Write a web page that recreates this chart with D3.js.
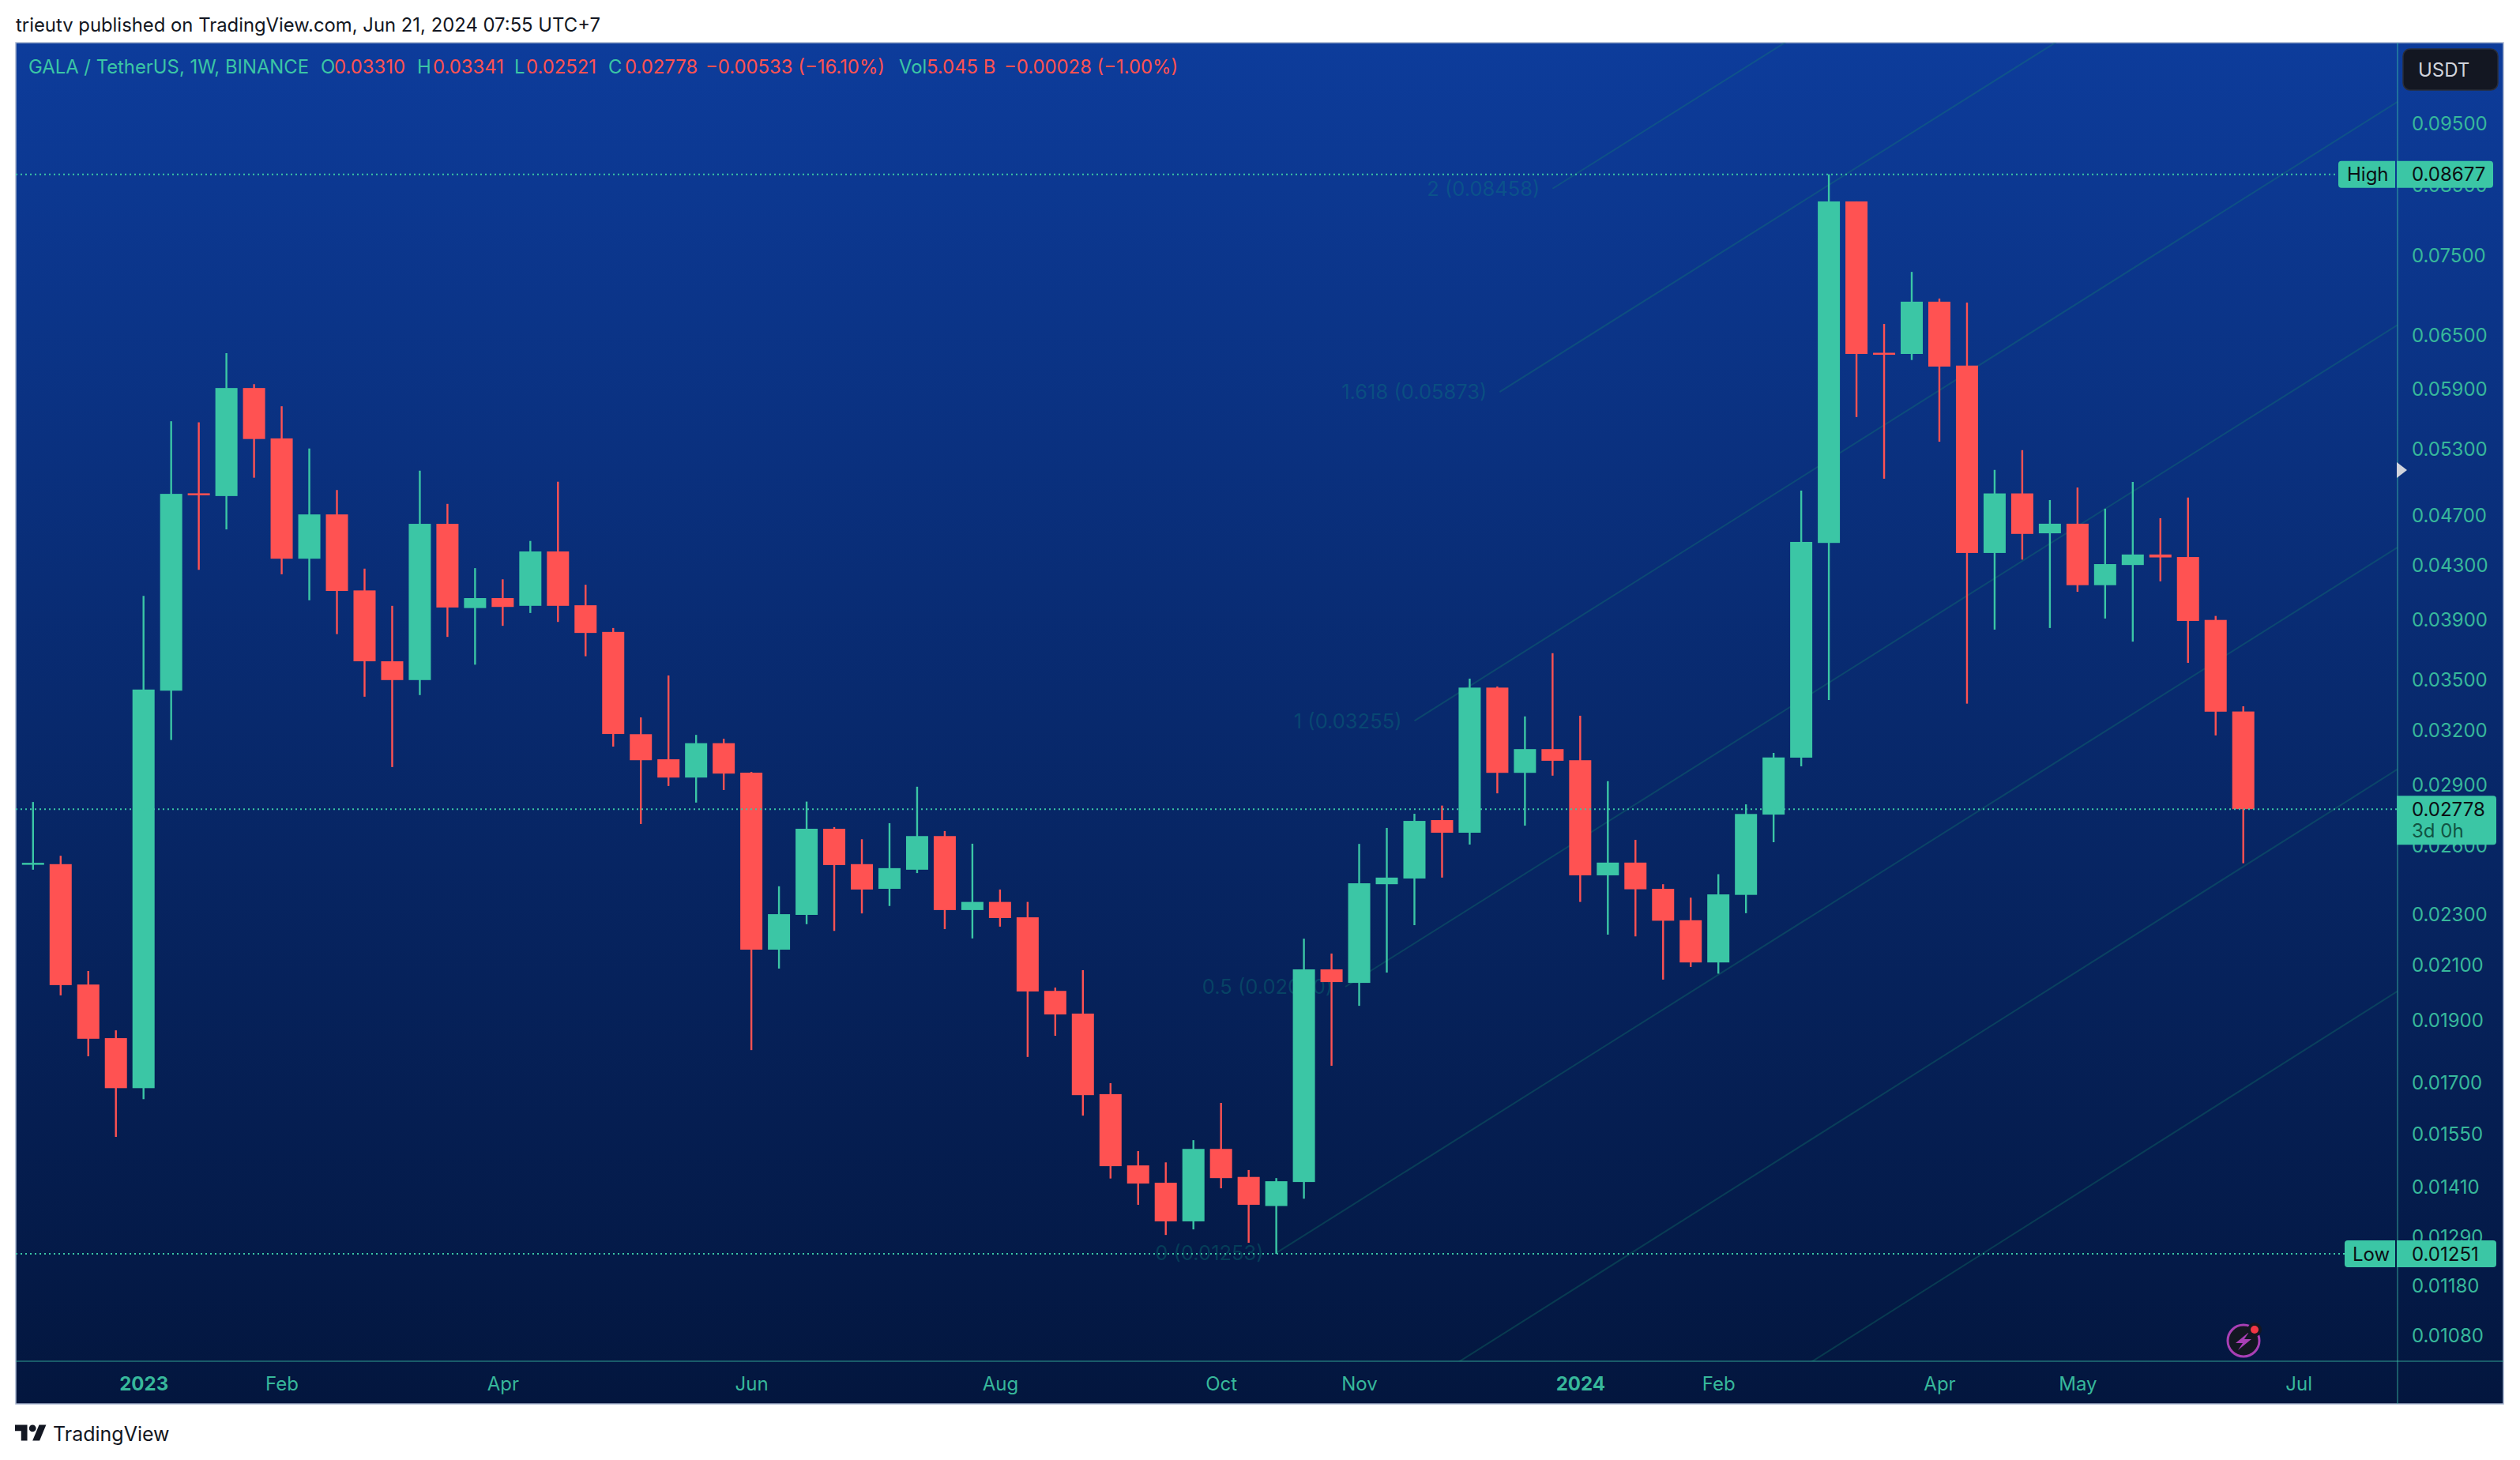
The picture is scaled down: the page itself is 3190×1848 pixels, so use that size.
<!DOCTYPE html>
<html>
<head>
<meta charset="utf-8">
<title>GALA / TetherUS 1W</title>
<script src="https://cdn.jsdelivr.net/npm/d3@7"></script>
<style>
    html, body { margin: 0; background: #fff; }
    svg { display: block; }
    text { font-family: Inter, "Noto Sans", sans-serif; }
</style>
</head>
<body>
<svg id="chart"></svg>
<script>
const svgWidth = 3190
const svgHeight = 1848
const panel = { left: 20, right: 3169, top: 54, bottom: 1777, plotBottom: 1723, axisX: 3035 }
const colours = { up: '#3bc6a5', down: '#ff5252', tick: '#37b89b', fib: 'rgba(20, 140, 110, 0.3)', fibText: 'rgba(10, 140, 125, 0.33)' }

// weekly candles, Mon 5 Dec 2022 .. Mon 17 Jun 2024
const weeks = d3.utcMonday.range(new Date(Date.UTC(2022, 11, 5)), new Date(Date.UTC(2024, 5, 18)))

const opens = [
    0.02520, 0.02517, 0.02028, 0.01842, 0.01684, 0.03436, 0.04896, 0.04872, 0.05914, 0.05403,
    0.04354, 0.04714, 0.04113, 0.03622, 0.03502, 0.04635, 0.03985, 0.04057, 0.04001, 0.04411,
    0.04005, 0.03818, 0.03178, 0.03038, 0.02940, 0.03127, 0.02966, 0.02159, 0.02298, 0.02682,
    0.02517, 0.02408, 0.02492, 0.02647, 0.02318, 0.02352, 0.02288, 0.02005, 0.01925, 0.01666,
    0.01466, 0.01421, 0.01326, 0.01510, 0.01436, 0.01363, 0.01423, 0.02084, 0.02034, 0.02428,
    0.02453, 0.02724, 0.02663, 0.03455, 0.02965, 0.03094, 0.03033, 0.02467, 0.02524, 0.02408,
    0.02276, 0.02110, 0.02382, 0.02751, 0.03047, 0.04479, 0.08266, 0.06300, 0.06287, 0.06905,
    0.06157, 0.04399, 0.04895, 0.04557, 0.04636, 0.04152, 0.04305, 0.04387, 0.04367, 0.03901,
    0.03310
]
const highs = [
    0.02814, 0.02555, 0.02078, 0.01868, 0.04073, 0.05572, 0.05561, 0.06296, 0.05955, 0.05724,
    0.05306, 0.04925, 0.04277, 0.04001, 0.05099, 0.04804, 0.04281, 0.04196, 0.04495, 0.04999,
    0.04155, 0.03845, 0.03275, 0.03531, 0.03174, 0.03152, 0.02970, 0.02419, 0.02816, 0.02690,
    0.02632, 0.02709, 0.02892, 0.02671, 0.02611, 0.02405, 0.02352, 0.02017, 0.02081, 0.01699,
    0.01504, 0.01474, 0.01534, 0.01640, 0.01454, 0.01433, 0.02202, 0.02144, 0.02610, 0.02686,
    0.02755, 0.02796, 0.03511, 0.03462, 0.03281, 0.03675, 0.03285, 0.02921, 0.02629, 0.02428,
    0.02370, 0.02472, 0.02802, 0.03073, 0.04920, 0.08677, 0.08266, 0.06635, 0.07284, 0.06944,
    0.06894, 0.05106, 0.05290, 0.04837, 0.04947, 0.04763, 0.04997, 0.04682, 0.04859, 0.03929,
    0.03341
]
const lows = [
    0.02492, 0.01989, 0.01783, 0.01543, 0.01651, 0.03145, 0.04268, 0.04589, 0.05035, 0.04234,
    0.04041, 0.03803, 0.03399, 0.02996, 0.03409, 0.03784, 0.03600, 0.03860, 0.03950, 0.03887,
    0.03655, 0.03108, 0.02705, 0.02896, 0.02811, 0.02875, 0.01803, 0.02087, 0.02260, 0.02233,
    0.02304, 0.02335, 0.02477, 0.02240, 0.02203, 0.02250, 0.01781, 0.01850, 0.01603, 0.01432,
    0.01366, 0.01294, 0.01307, 0.01407, 0.01276, 0.01251, 0.01381, 0.01753, 0.01952, 0.02072,
    0.02256, 0.02457, 0.02607, 0.02858, 0.02697, 0.02950, 0.02352, 0.02218, 0.02211, 0.02046,
    0.02093, 0.02068, 0.02305, 0.02618, 0.03000, 0.03379, 0.05614, 0.05026, 0.06219, 0.05371,
    0.03357, 0.03834, 0.04347, 0.03845, 0.04103, 0.03911, 0.03752, 0.04181, 0.03612, 0.03171,
    0.02521
]
const closes = [
    0.02523, 0.02026, 0.01840, 0.01684, 0.03443, 0.04891, 0.04886, 0.05914, 0.05397, 0.04354,
    0.04714, 0.04109, 0.03622, 0.03502, 0.04635, 0.03989, 0.04057, 0.03993, 0.04411, 0.04001,
    0.03811, 0.03179, 0.03033, 0.02940, 0.03127, 0.02961, 0.02159, 0.02301, 0.02682, 0.02513,
    0.02405, 0.02499, 0.02647, 0.02318, 0.02352, 0.02285, 0.02003, 0.01922, 0.01663, 0.01464,
    0.01419, 0.01326, 0.01510, 0.01433, 0.01366, 0.01425, 0.02084, 0.02037, 0.02432, 0.02457,
    0.02720, 0.02663, 0.03455, 0.02965, 0.03094, 0.03030, 0.02467, 0.02524, 0.02406, 0.02274,
    0.02110, 0.02384, 0.02754, 0.03048, 0.04487, 0.08266, 0.06287, 0.06298, 0.06905, 0.06146,
    0.04399, 0.04895, 0.04552, 0.04636, 0.04152, 0.04312, 0.04387, 0.04364, 0.03894, 0.03309,
    0.02778
]

const priceTicks = [
    0.095, 0.085, 0.075, 0.065, 0.059, 0.053, 0.047, 0.043, 0.039, 0.035, 0.032,
    0.029, 0.026, 0.023, 0.021, 0.019, 0.017, 0.0155, 0.0141, 0.0129, 0.0118, 0.0108
]
const timeTickDates = [
    '2023-01-02', '2023-02-06', '2023-04-03', '2023-06-05', '2023-08-07', '2023-10-02',
    '2023-11-06', '2024-01-01', '2024-02-05', '2024-04-01', '2024-05-06', '2024-07-01'
].map(d => new Date(d))
const timeTickLabels = ['2023', 'Feb', 'Apr', 'Jun', 'Aug', 'Oct', 'Nov', '2024', 'Feb', 'Apr', 'May', 'Jul']

// trend based fib: one line per level, start and end in (date, price)
const fibLabels = ['', '', '0 (0.01253)', '0.5 (0.02020)', '1 (0.03255)', '1.618 (0.05873)', '2 (0.08458)']
const fibStartDates = ['2023-09-11', '2023-09-28T12:00', '2023-10-16', '2023-11-02T12:00', '2023-11-20', '2023-12-11T14:00', '2023-12-25']
    .map(d => new Date(d + (d.length > 10 ? 'Z' : '')))
const fibStartPrices = [0.00480, 0.00775, 0.01253, 0.02020, 0.03255, 0.05873, 0.08458]
const fibEndDate = new Date('2024-07-26')
const fibEndPrices = [0.02003, 0.02983, 0.04442, 0.06620, 0.09880, 0.16160, 0.21920]

const candles = weeks.map((date, i) => ({
    date,
    open: opens[i],
    high: highs[i],
    low: lows[i],
    close: closes[i]
}))

const x = d3.scaleUtc()
    .domain([weeks[0], weeks[weeks.length - 1]])
    .range([41.8, 2839.7])

const y = d3.scaleLog()
    .domain([0.01251, 0.08677])
    .range([1587, 220.7])

const svg = d3.select('#chart')
    .attr('width', svgWidth)
    .attr('height', svgHeight)

const defs = svg.append('defs')
const gradient = defs.append('linearGradient')
    .attr('id', 'panel-bg')
    .attr('gradientUnits', 'userSpaceOnUse')
    .attr('x1', 0).attr('x2', 0)
    .attr('y1', panel.top).attr('y2', panel.bottom)
gradient.append('stop').attr('offset', 0).attr('stop-color', '#0d3c9b')
gradient.append('stop').attr('offset', 1).attr('stop-color', '#03163e')

defs.append('clipPath')
    .attr('id', 'plot-clip')
    .append('rect')
    .attr('x', panel.left)
    .attr('y', panel.top)
    .attr('width', panel.axisX - panel.left)
    .attr('height', panel.plotBottom - panel.top)

svg.append('text')
    .attr('x', 20)
    .attr('y', 40)
    .attr('font-size', 23.85)
    .attr('fill', '#131722')
    .text('trieutv published on TradingView.com, Jun 21, 2024 07:55 UTC+7')

svg.append('rect')
    .attr('x', panel.left)
    .attr('y', panel.top)
    .attr('width', panel.right - panel.left)
    .attr('height', panel.bottom - panel.top)
    .attr('fill', 'url(#panel-bg)')
    .attr('stroke', '#a9b6cf')
    .attr('stroke-width', 1.5)

// fib lines and their labels sit under the candles
const fib = svg.append('g').attr('clip-path', 'url(#plot-clip)')

fib.selectAll('line')
    .data(fibStartDates)
    .join('line')
    .attr('x1', d => x(d))
    .attr('y1', (d, i) => y(fibStartPrices[i]))
    .attr('x2', x(fibEndDate))
    .attr('y2', (d, i) => y(fibEndPrices[i]))
    .attr('stroke', colours.fib)
    .attr('stroke-width', 2)

fib.selectAll('text')
    .data(fibLabels)
    .join('text')
    .attr('x', (d, i) => x(fibStartDates[i]) - 16)
    .attr('y', (d, i) => y(fibStartPrices[i]))
    .attr('dy', '0.36em')
    .attr('text-anchor', 'end')
    .attr('font-size', 25.5)
    .attr('fill', colours.fibText)
    .text(d => d)

// candles
const candleWidth = 28
const candle = svg.append('g')
    .selectAll('g')
    .data(candles)
    .join('g')
    .attr('fill', d => d.close >= d.open ? colours.up : colours.down)

candle.append('rect')
    .attr('x', d => x(d.date) - 1.2)
    .attr('y', d => y(d.high))
    .attr('width', 2.4)
    .attr('height', d => y(d.low) - y(d.high))

candle.append('rect')
    .attr('x', d => x(d.date) - candleWidth / 2)
    .attr('y', d => y(Math.max(d.open, d.close)))
    .attr('width', candleWidth)
    .attr('height', d => Math.max(y(Math.min(d.open, d.close)) - y(Math.max(d.open, d.close)), 2.5))

// high, low and last price dotted lines
const lastPrice = closes[closes.length - 1]
const highPrice = d3.max(highs)
const lowPrice = d3.min(lows)
const markerPrices = [highPrice, lastPrice, lowPrice]
const markerEnds = [2960, panel.axisX, 2968]

svg.append('g')
    .selectAll('line')
    .data(markerPrices)
    .join('line')
    .attr('x1', panel.left)
    .attr('x2', (d, i) => markerEnds[i])
    .attr('y1', d => y(d))
    .attr('y2', d => y(d))
    .attr('stroke', colours.up)
    .attr('stroke-width', 2)
    .attr('stroke-dasharray', '2 4')

// axis lines
svg.append('line')
    .attr('x1', panel.axisX).attr('x2', panel.axisX)
    .attr('y1', panel.top).attr('y2', panel.bottom)
    .attr('stroke', colours.up)
    .attr('stroke-opacity', 0.4)
    .attr('stroke-width', 2)
svg.append('line')
    .attr('x1', panel.left).attr('x2', panel.right)
    .attr('y1', panel.plotBottom).attr('y2', panel.plotBottom)
    .attr('stroke', colours.up)
    .attr('stroke-opacity', 0.4)
    .attr('stroke-width', 2)

const styleAxis = g => {
    g.select('.domain').remove()
    g.selectAll('text')
        .attr('font-family', 'Inter, sans-serif')
        .attr('font-size', 24)
        .attr('fill', colours.tick)
}

svg.append('g')
    .attr('transform', `translate(${panel.axisX}, 0)`)
    .call(
        d3.axisRight(y)
            .tickValues(priceTicks)
            .tickFormat(d3.format('.5f'))
            .tickSize(0)
            .tickPadding(18)
    )
    .call(styleAxis)

svg.append('g')
    .attr('transform', `translate(0, ${panel.plotBottom})`)
    .call(
        d3.axisBottom(x)
            .tickValues(timeTickDates)
            .tickFormat((d, i) => timeTickLabels[i])
            .tickSize(0)
            .tickPadding(20)
    )
    .call(styleAxis)
    .selectAll('text')
    .attr('font-weight', (d, i) => /^\d+$/.test(timeTickLabels[i]) ? 700 : 400)

// legend line
const legendTexts = ['GALA / TetherUS, 1W, BINANCE', 'O', '0.03310', 'H', '0.03341', 'L', '0.02521', 'C', '0.02778',
    '\u22120.00533 (\u221216.10%)', 'Vol', '5.045 B', '\u22120.00028 (\u22121.00%)']
const legendStarts = [36, 406, 423, 528, 548, 651, 666, 770, 791, 893, 1138, 1173, 1271]
const legendFills = [colours.up, colours.up, colours.down, colours.up, colours.down, colours.up, colours.down,
    colours.up, colours.down, colours.down, colours.up, colours.down, colours.down]

svg.append('g')
    .selectAll('text')
    .data(legendTexts)
    .join('text')
    .attr('x', (d, i) => legendStarts[i])
    .attr('y', 93)
    .attr('font-size', 23.85)
    .attr('fill', (d, i) => legendFills[i])
    .text(d => d)

// USDT button
svg.append('rect')
    .attr('x', 3042).attr('y', 62)
    .attr('width', 120).attr('height', 52)
    .attr('rx', 9)
    .attr('fill', '#131722')
    .attr('stroke', '#2a2e39')
    .attr('stroke-width', 1.5)
svg.append('text')
    .attr('x', 3061).attr('y', 97)
    .attr('font-size', 24)
    .attr('fill', '#d1d4dc')
    .text('USDT')

// price tags on the axis
const tagGroup = svg.append('g')
const drawTag = (label, price, left, labelX, priceRight) => {
    const py = y(price)
    tagGroup.append('path')
        .attr('d', `M${left + 4},${py - 17}H3032V${py + 17}H${left + 4}Q${left},${py + 17} ${left},${py + 13}V${py - 13}Q${left},${py - 17} ${left + 4},${py - 17}Z`)
        .attr('fill', colours.up)
    tagGroup.append('path')
        .attr('d', `M3034,${py - 17}H${priceRight - 4}Q${priceRight},${py - 17} ${priceRight},${py - 13}V${py + 13}Q${priceRight},${py + 17} ${priceRight - 4},${py + 17}H3034Z`)
        .attr('fill', colours.up)
    tagGroup.append('text')
        .attr('x', labelX).attr('y', py).attr('dy', '0.36em')
        .attr('font-size', 24).attr('fill', '#0b0e14')
        .text(label)
    tagGroup.append('text')
        .attr('x', 3053).attr('y', py).attr('dy', '0.36em')
        .attr('font-size', 24).attr('fill', '#0b0e14')
        .text(d3.format('.5f')(price))
}
drawTag('High', highPrice, 2960, 2971, 3156)
drawTag('Low', lowPrice, 2968, 2978, 3160)

const lastY = y(lastPrice)
tagGroup.append('path')
    .attr('d', `M3034,${lastY - 17}H3156Q3160,${lastY - 17} 3160,${lastY - 13}V${lastY + 41}Q3160,${lastY + 45} 3156,${lastY + 45}H3034Z`)
    .attr('fill', colours.up)
tagGroup.append('text')
    .attr('x', 3053).attr('y', lastY).attr('dy', '0.36em')
    .attr('font-size', 24).attr('fill', '#0b0e14')
    .text(d3.format('.5f')(lastPrice))
tagGroup.append('text')
    .attr('x', 3053).attr('y', lastY + 27).attr('dy', '0.36em')
    .attr('font-size', 24).attr('fill', '#115443')
    .text('3d 0h')

// small scale arrow
svg.append('path')
    .attr('d', 'M3034,585L3047,595L3034,605Z')
    .attr('fill', '#d1d4dc')

// lightning badge
const badge = svg.append('g').attr('transform', 'translate(2840, 1697)')
badge.append('circle').attr('r', 20).attr('fill', '#131722').attr('stroke', '#a83fb5').attr('stroke-width', 3)
badge.append('path')
    .attr('d', 'M7,-11L-10,3H-1L-7,12L10,-2H1Z')
    .attr('fill', '#a83fb5')
badge.append('circle').attr('cx', 14).attr('cy', -14).attr('r', 9).attr('fill', '#131722')
badge.append('circle').attr('cx', 14).attr('cy', -14).attr('r', 5).attr('fill', '#f23645')

// footer logo
svg.append('g')
    .attr('transform', 'translate(19, 1799) scale(1.11)')
    .attr('fill', '#131722')
    .selectAll('path')
    .data(['M14 22H7V11H0V4h14v18z', 'M28 22h-8l7.5-18h8L28 22z'])
    .join('path')
    .attr('d', d => d)
svg.append('circle')
    .attr('cx', 41.2).attr('cy', 1807.9).attr('r', 4.4)
    .attr('fill', '#131722')
svg.append('text')
    .attr('x', 67).attr('y', 1824)
    .attr('font-size', 25)
    .attr('fill', '#131722')
    .text('TradingView')
</script>
</body>
</html>
